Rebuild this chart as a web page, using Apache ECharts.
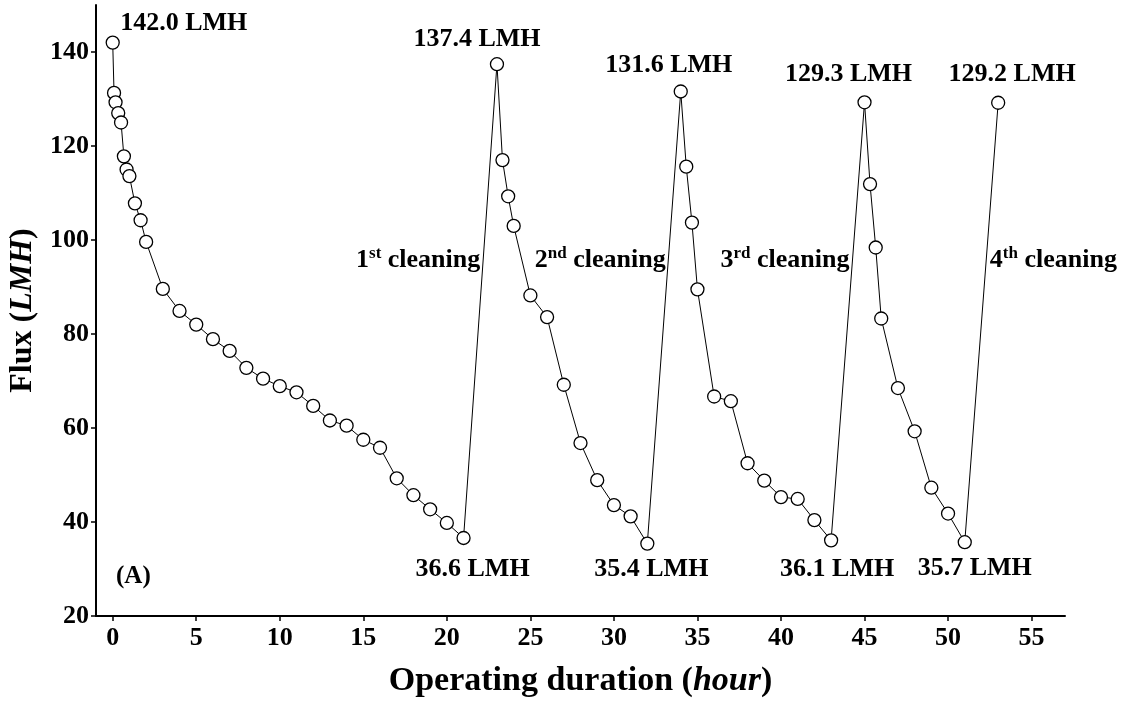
<!DOCTYPE html>
<html>
<head>
<meta charset="utf-8">
<title>Flux vs operating duration</title>
<script src="https://cdn.jsdelivr.net/npm/echarts@6.0.0/dist/echarts.min.js"></script>
<style>
  html, body { margin: 0; padding: 0; background: #fff; }
  #chart { width: 1128px; height: 706px; }
</style>
</head>
<body>
<div id="chart"></div>
<script>
// operating time (h) and flux (LMH)
const hours = [
  0, 0.08, 0.17, 0.33, 0.5, 0.67, 0.83, 1, 1.33, 1.67, 2, 3, 4, 5, 6, 7, 8, 9, 10,
  11, 12, 13, 14, 15, 16, 17, 18, 19, 20, 21,
  23, 23.33, 23.67, 24, 25, 26, 27, 28, 29, 30, 31, 32,
  34, 34.33, 34.67, 35, 36, 37, 38, 39, 40, 41, 42, 43,
  45, 45.33, 45.67, 46, 47, 48, 49, 50, 51,
  53
];
const flux = [
  142.0, 131.3, 129.3, 127.0, 125.0, 117.8, 115.0, 113.6, 107.8, 104.2, 99.6, 89.6, 84.9, 82.0, 78.9, 76.4, 72.8, 70.5, 68.9,
  67.6, 64.7, 61.6, 60.5, 57.5, 55.8, 49.3, 45.7, 42.7, 39.8, 36.6,
  137.4, 117.0, 109.3, 103.0, 88.2, 83.6, 69.2, 56.8, 48.9, 43.6, 41.2, 35.4,
  131.6, 115.6, 103.7, 89.5, 66.7, 65.7, 52.5, 48.8, 45.3, 44.9, 40.4, 36.1,
  129.3, 111.9, 98.4, 83.3, 68.5, 59.3, 47.3, 41.8, 35.7,
  129.2
];
const xTicks = [0, 5, 10, 15, 20, 25, 30, 35, 40, 45, 50, 55];
const yTicks = [20, 40, 60, 80, 100, 120, 140];

// points that carry a value label (peaks after cleaning, troughs before)
const peakIdx = [0, 30, 42, 54, 63];
const troughIdx = [29, 41, 53, 62];

// "n-th cleaning" notes, anchored next to each recovery jump
const cleaningHours = [22.0, 33.1, 44.1, 52.5];
const cleaningFlux = [95.6, 95.6, 95.6, 95.6];
const cleaningNum = ['1', '2', '3', '4'];
const cleaningSup = ['st', 'nd', 'rd', 'th'];

const FONT = "'Liberation Serif', 'Times New Roman', serif";

// label offsets in px from the point centre
const labelOffset = {
  0: [71, -19], 30: [-20, -25], 42: [-12, -26], 54: [-16, -28], 63: [14, -28],
  29: [9, 31], 41: [4, 26], 53: [6, 29], 62: [10, 26]
};

const lineData = hours.map((h, i) => {
  const item = { value: [h, flux[i]] };
  if (peakIdx.includes(i) || troughIdx.includes(i)) {
    item.label = {
      show: true,
      position: 'inside',
      offset: labelOffset[i],
      align: 'center',
      verticalAlign: 'middle',
      formatter: flux[i].toFixed(1) + ' LMH'
    };
  }
  return item;
});

const noteData = cleaningHours.map((h, i) => ({
  value: [h, cleaningFlux[i]],
  label: {
    align: i === 3 ? 'left' : 'right',
    formatter: '{n|' + cleaningNum[i] + '}{s|' + cleaningSup[i] + '}{n| cleaning}'
  }
}));

const chart = echarts.init(document.getElementById('chart'));

const option = {
  backgroundColor: '#fff',
  animation: false,
  textStyle: { fontFamily: FONT, color: '#000' },
  grid: { left: 96, right: 63, top: 5, bottom: 90, containLabel: false, outerBoundsMode: 'none' },
  graphic: [{
    type: 'text',
    left: 116,
    top: 564,
    style: { text: '(A)', font: 'bold 25px ' + FONT, fill: '#000' }
  }],
  xAxis: {
    type: 'value',
    min: -1,
    max: 57,
    name: '{b|Operating duration (}{i|hour}{b|)}',
    nameLocation: 'middle',
    nameGap: 48,
    nameTextStyle: {
      rich: {
        b: { fontFamily: FONT, fontWeight: 'bold', fontSize: 34, color: '#000' },
        i: { fontFamily: FONT, fontWeight: 'bold', fontStyle: 'italic', fontSize: 34, color: '#000' }
      }
    },
    axisLine: { onZero: false, lineStyle: { color: '#000', width: 2 } },
    axisTick: { show: true, length: 5, lineStyle: { color: '#000', width: 1.5 }, customValues: xTicks },
    axisLabel: {
      customValues: xTicks,
      margin: 9,
      fontFamily: FONT, fontWeight: 'bold', fontSize: 26, color: '#000'
    },
    splitLine: { show: false }
  },
  yAxis: {
    type: 'value',
    min: 20,
    max: 150,
    name: '{b|Flux (}{i|LMH}{b|)}',
    nameLocation: 'middle',
    nameGap: 54,
    nameTextStyle: {
      rich: {
        b: { fontFamily: FONT, fontWeight: 'bold', fontSize: 32, color: '#000' },
        i: { fontFamily: FONT, fontWeight: 'bold', fontStyle: 'italic', fontSize: 32, color: '#000' }
      }
    },
    axisLine: { show: true, onZero: false, lineStyle: { color: '#000', width: 2 } },
    axisTick: { show: true, length: 5, lineStyle: { color: '#000', width: 1.5 }, customValues: yTicks },
    axisLabel: {
      customValues: yTicks,
      margin: 7,
      fontFamily: FONT, fontWeight: 'bold', fontSize: 26, color: '#000'
    },
    splitLine: { show: false }
  },
  series: [
    {
      type: 'line',
      data: lineData,
      symbol: 'circle',
      symbolSize: 13,
      showAllSymbol: true,
      itemStyle: { color: '#fff', borderColor: '#000', borderWidth: 1.3 },
      lineStyle: { color: '#000', width: 1 },
      label: { fontFamily: FONT, fontWeight: 'bold', fontSize: 26, color: '#000' },
      emphasis: { disabled: true },
      z: 3
    },
    {
      type: 'scatter',
      data: noteData,
      symbolSize: 0,
      silent: true,
      itemStyle: { opacity: 1 },
      label: {
        show: true,
        position: 'inside',
        verticalAlign: 'middle',
        color: '#000',
        opacity: 1,
        rich: {
          n: { fontFamily: FONT, fontWeight: 'bold', fontSize: 26, color: '#000', lineHeight: 32 },
          s: { fontFamily: FONT, fontWeight: 'bold', fontSize: 17, color: '#000', verticalAlign: 'top', lineHeight: 16 }
        }
      },
      emphasis: { disabled: true },
      z: 2
    }
  ]
};

chart.setOption(option);
</script>
</body>
</html>
